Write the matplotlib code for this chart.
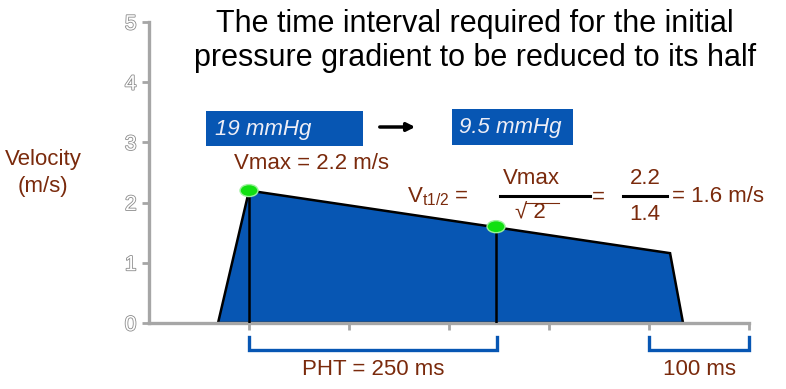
import matplotlib
matplotlib.use("Agg")
import matplotlib.pyplot as plt
import matplotlib.patheffects as pe
from matplotlib.patches import Ellipse, Rectangle

plt.rcParams["font.family"] = ["Liberation Sans", "DejaVu Sans"]

# Jet velocity profile (time in ms, velocity in m/s)
time_ms = [69, 100, 521, 534]
velocity = [0.0, 2.2, 1.16, 0.0]

# key points
vmax_t, vmax_v = 100, 2.2
vhalf_t, vhalf_v = 347, 1.6

# brackets under the time axis
pht_span = (100, 348)
decel_span = (500, 600)

y_ticks = [0, 1, 2, 3, 4, 5]
x_ticks = [100, 200, 300, 400, 500, 600]

BLUE = "#0756B3"
BROWN = "#7A2A0C"
GRAY = "#A6A6A6"
FS = 16

fig = plt.figure(figsize=(7.86, 3.89), dpi=100)
ax = fig.add_axes([0.1896, 0.1697, 0.7634, 0.7737])

ax.fill(time_ms, velocity, facecolor=BLUE, edgecolor="black", linewidth=1.8, zorder=2)
ax.plot([vmax_t, vmax_t], [0, vmax_v], color="black", lw=1.8, zorder=3)
ax.plot([vhalf_t, vhalf_t], [0, vhalf_v], color="black", lw=1.8, zorder=3)
for t, v in [(vmax_t, vmax_v), (vhalf_t, vhalf_v)]:
    ax.add_patch(Ellipse((t, v), 18, 0.2, facecolor="#11E011",
                         edgecolor="#9AF29A", lw=1, zorder=4))

ax.set_xlim(0, 600)
ax.set_ylim(0, 5)
ax.set_xticks(x_ticks)
ax.set_xticklabels([])
ax.set_yticks(y_ticks)
ax.set_yticklabels([str(v) for v in y_ticks])
for s in ["top", "right"]:
    ax.spines[s].set_visible(False)
for s in ["left", "bottom"]:
    ax.spines[s].set_color(GRAY)
    ax.spines[s].set_linewidth(2.4)
ax.tick_params(axis="both", color=GRAY, width=2, length=5, direction="out")
ax.tick_params(axis="y", labelsize=15, pad=4)
for lbl in ax.get_yticklabels():
    lbl.set_color("white")
    lbl.set_path_effects([pe.withStroke(linewidth=1.2, foreground="#8C8C8C")])

# brackets
for a, b in [pht_span, decel_span]:
    ax.plot([a, a, b, b], [-0.23, -0.45, -0.45, -0.23], color=BLUE, lw=2.4,
            clip_on=False, solid_joinstyle="miter")

ax.text(373 - 149, -0.78, "PHT = 250 ms", color=BROWN, fontsize=FS,
        ha="center", va="center")
ax.text(699 - 149, -0.78, "100 ms", color=BROWN, fontsize=FS,
        ha="center", va="center")

fig.text(475 / 786, 1 - 41 / 389,
         "The time interval required for the initial\npressure gradient to be reduced to its half",
         ha="center", va="center", fontsize=22, color="black", linespacing=1.2)

fig.text(43 / 786, 1 - 173 / 389, "Velocity\n(m/s)", ha="center", va="center",
         fontsize=FS, color=BROWN, linespacing=1.4)

# pressure boxes
fig.patches.append(Rectangle((206 / 786, 1 - 146 / 389), 157 / 786, 35 / 389,
                             transform=fig.transFigure, facecolor=BLUE, edgecolor="none"))
fig.patches.append(Rectangle((452 / 786, 1 - 145 / 389), 121 / 786, 36 / 389,
                             transform=fig.transFigure, facecolor=BLUE, edgecolor="none"))
fig.text(215 / 786, 1 - 129 / 389, "19 mmHg", color="#EEEEF6", fontsize=FS,
         style="italic", va="center", ha="left")
fig.text(459 / 786, 1 - 128 / 389, "9.5 mmHg", color="#EEEEF6", fontsize=FS,
         style="italic", va="center", ha="left")
ax.annotate("", xy=(418 / 786, 1 - 127 / 389), xytext=(377 / 786, 1 - 127 / 389),
            xycoords="figure fraction", textcoords="figure fraction",
            arrowprops=dict(arrowstyle="-|>", color="black", lw=2.5,
                            mutation_scale=12))

fig.text(311 / 786, 1 - 164 / 389, "Vmax = 2.2 m/s", color=BROWN, fontsize=FS,
         ha="center", va="center")
fig.text(407 / 786, 1 - 197 / 389, r"V$_{\mathregular{t1/2}}$ =", color=BROWN,
         fontsize=FS, ha="left", va="center")
fig.text(531 / 786, 1 - 178 / 389, "Vmax", color=BROWN, fontsize=FS,
         ha="center", va="center")
fig.add_artist(plt.Line2D([500 / 786, 590 / 786], [1 - 196 / 389] * 2,
                          color="black", lw=2.2, transform=fig.transFigure))
fig.text(530 / 786, 1 - 213 / 389, "\u221a 2", color=BROWN, fontsize=FS,
         ha="center", va="center")
fig.add_artist(plt.Line2D([525 / 786, 559 / 786], [1 - 203 / 389] * 2,
                          color=BROWN, lw=0.8, transform=fig.transFigure))
fig.text(598 / 786, 1 - 197 / 389, "=", color=BROWN, fontsize=FS,
         ha="center", va="center")
fig.text(645 / 786, 1 - 178 / 389, "2.2", color=BROWN, fontsize=FS,
         ha="center", va="center")
fig.add_artist(plt.Line2D([623 / 786, 667 / 786], [1 - 196 / 389] * 2,
                          color="black", lw=2.2, transform=fig.transFigure))
fig.text(645 / 786, 1 - 215 / 389, "1.4", color=BROWN, fontsize=FS,
         ha="center", va="center")
fig.text(672 / 786, 1 - 197 / 389, "= 1.6 m/s", color=BROWN, fontsize=FS,
         ha="left", va="center")

fig.savefig("out.png", dpi=100)
